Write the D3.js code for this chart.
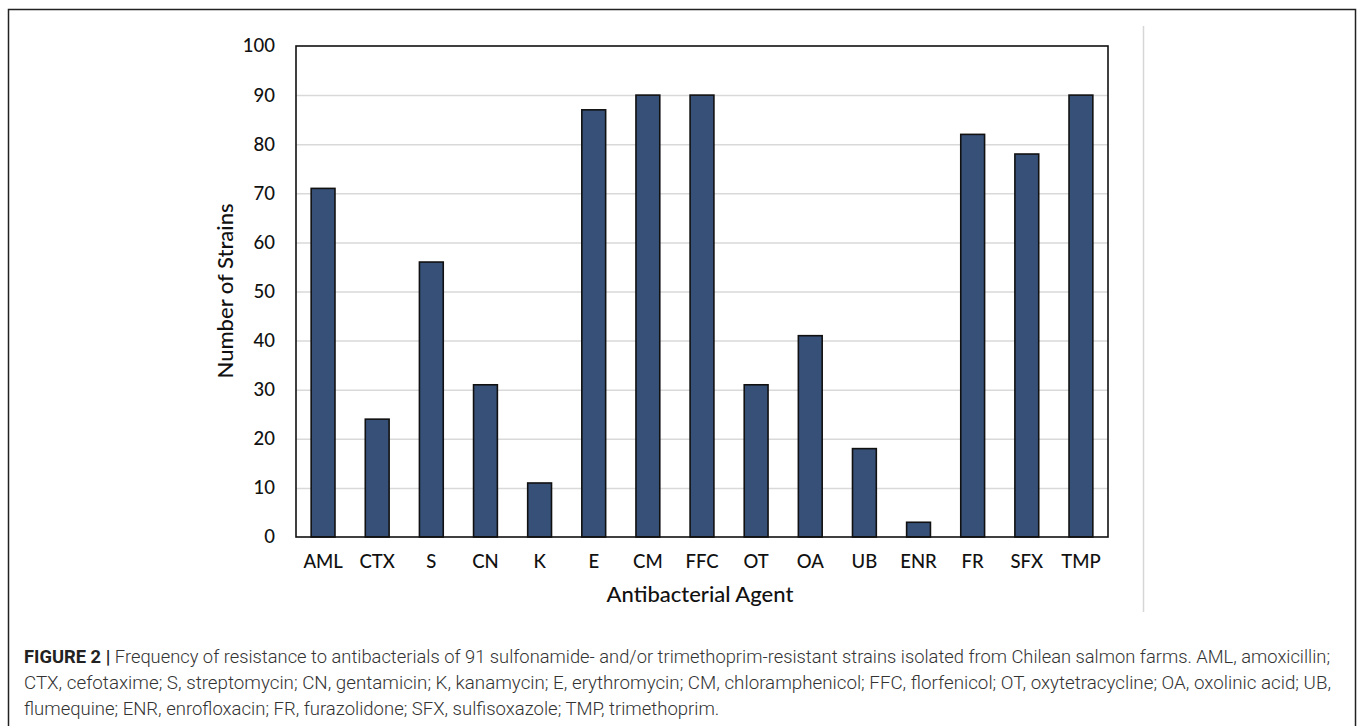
<!DOCTYPE html>
<html>
<head>
<meta charset="utf-8">
<script src="https://cdn.jsdelivr.net/npm/d3@7.9.0/dist/d3.min.js"></script>
<style>
  html, body { margin: 0; padding: 0; background: #fff; }
  svg { display: block; }
</style>
</head>
<body>
<svg id="chart" width="1357" height="726"></svg>
<script>
// ------------------- Data -------------------
const agents = ['AML', 'CTX', 'S', 'CN', 'K', 'E', 'CM', 'FFC', 'OT', 'OA', 'UB', 'ENR', 'FR', 'SFX', 'TMP'];
const strains = [71, 24, 56, 31, 11, 87, 90, 90, 31, 41, 18, 3, 82, 78, 90];
const yTicks = [0, 10, 20, 30, 40, 50, 60, 70, 80, 90, 100];

const captionLines = [
  'Frequency of resistance to antibacterials of 91 sulfonamide- and/or trimethoprim-resistant strains isolated from Chilean salmon farms. AML, amoxicillin;',
  'CTX, cefotaxime; S, streptomycin; CN, gentamicin; K, kanamycin; E, erythromycin; CM, chloramphenicol; FFC, florfenicol; OT, oxytetracycline; OA, oxolinic acid; UB,',
  'flumequine; ENR, enrofloxacin; FR, furazolidone; SFX, sulfisoxazole; TMP, trimethoprim.'
];

// ------------------- Layout -------------------
const svg = d3.select('#chart');
const plot = { left: 296, right: 1108, top: 46, bottom: 537 };
const chartFont = 'Lato, "Open Sans", sans-serif';

// outer frame + separator
svg.append('rect')
  .attr('x', 8.5).attr('y', 9.5)
  .attr('width', 1347).attr('height', 740)
  .attr('fill', 'none').attr('stroke', '#222').attr('stroke-width', 1.5);

svg.append('line')
  .attr('x1', 1143.5).attr('x2', 1143.5)
  .attr('y1', 26).attr('y2', 612)
  .attr('stroke', '#d6d6d6').attr('stroke-width', 1.5);

// ------------------- Scales -------------------
const x = d3.scaleBand().domain(agents).range([plot.left, plot.right]).paddingInner(0.56).paddingOuter(0.28);
const y = d3.scaleLinear().domain([0, 100]).range([plot.bottom, plot.top]);

// gridlines
svg.append('g')
  .attr('class', 'gridlines')
  .attr('transform', `translate(${plot.left},0)`)
  .call(d3.axisLeft(y).tickValues(yTicks.slice(1, -1)).tickFormat('').tickSize(-(plot.right - plot.left)))
  .call(g => g.select('.domain').remove())
  .call(g => g.selectAll('line').attr('stroke', '#d9d9d9').attr('stroke-width', 1.5));

// bars
svg.append('g')
  .attr('class', 'bars')
  .selectAll('rect')
  .data(agents.map((a, i) => ({ agent: a, value: strains[i] })))
  .join('rect')
  .attr('x', d => x(d.agent))
  .attr('y', d => y(d.value))
  .attr('width', x.bandwidth())
  .attr('height', d => y(0) - y(d.value))
  .attr('fill', '#375078')
  .attr('stroke', '#111')
  .attr('stroke-width', 1.6);

// plot frame
svg.append('rect')
  .attr('x', plot.left).attr('y', plot.top)
  .attr('width', plot.right - plot.left).attr('height', plot.bottom - plot.top)
  .attr('fill', 'none').attr('stroke', '#111').attr('stroke-width', 1.6);

// y axis labels
svg.append('g')
  .attr('class', 'y-axis')
  .attr('transform', `translate(${plot.left},0)`)
  .call(d3.axisLeft(y).tickValues(yTicks).tickSize(0).tickPadding(21))
  .call(g => g.select('.domain').remove())
  .call(g => g.selectAll('text')
    .attr('font-family', chartFont).attr('font-size', 18.5)
    .attr('font-weight', 500).attr('fill', '#111'));

// x axis labels
svg.append('g')
  .attr('class', 'x-axis')
  .attr('transform', `translate(0,${plot.bottom})`)
  .call(d3.axisBottom(x).tickSize(0).tickPadding(18))
  .call(g => g.select('.domain').remove())
  .call(g => g.selectAll('text')
    .attr('font-family', chartFont).attr('font-size', 18.5)
    .attr('font-weight', 500).attr('fill', '#111'));

// axis titles
svg.append('text')
  .attr('x', (plot.left + plot.right) / 2 - 2).attr('y', 602)
  .attr('text-anchor', 'middle')
  .attr('font-family', chartFont).attr('font-size', 22).attr('font-weight', 500).attr('fill', '#111')
  .text('Antibacterial Agent');

svg.append('text')
  .attr('transform', 'translate(233,291) rotate(-90)')
  .attr('text-anchor', 'middle')
  .attr('font-family', chartFont).attr('font-size', 22).attr('font-weight', 500).attr('fill', '#111')
  .text('Number of Strains');

// ------------------- Caption -------------------
const capFont = 'Roboto, "Liberation Sans", sans-serif';
const capRight = [1330, 1331, null];
const capY = [663, 689, 715];

captionLines.forEach((line, i) => {
  const t = svg.append('text')
    .attr('x', 24).attr('y', capY[i])
    .attr('font-family', capFont).attr('font-size', 18.5).attr('font-weight', 300).attr('fill', '#333');
  if (i === 0) {
    t.append('tspan').attr('font-weight', 'bold').attr('fill', '#222').text('FIGURE 2 | ');
  }
  t.append('tspan').text(line);
  if (capRight[i]) {
    t.attr('textLength', capRight[i] - 24).attr('lengthAdjust', 'spacingAndGlyphs');
  }
});
</script>
</body>
</html>
